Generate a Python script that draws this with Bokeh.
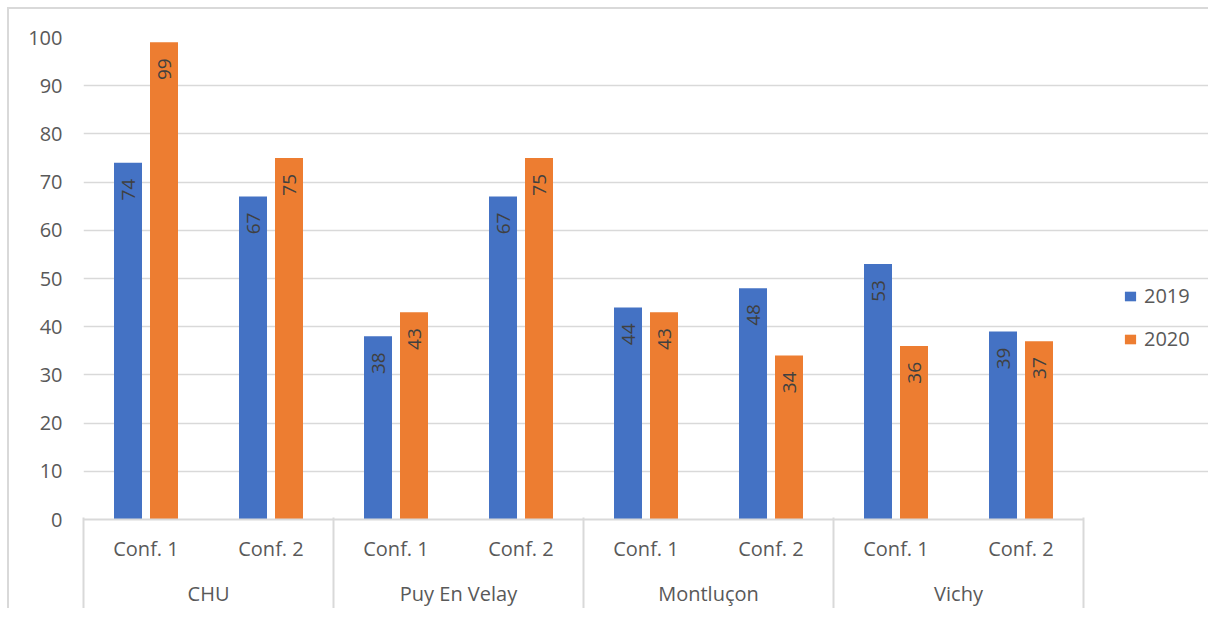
import math
from bokeh.plotting import figure
from bokeh.models import (ColumnDataSource, FactorRange, Range1d, FixedTicker, LinearAxis,
                          CategoricalAxis, Legend, LegendItem)
from bokeh.transform import dodge
from bokeh.core.properties import value
from bokeh.embed import file_html
from bokeh.resources import INLINE

# ---- data ----
sites = ["CHU", "Puy En Velay", "Montluçon", "Vichy"]
confs = ["Conf. 1", "Conf. 2"]
years = ["2019", "2020"]
values_2019 = [74, 67, 38, 67, 44, 48, 53, 39]
values_2020 = [99, 75, 43, 75, 43, 34, 36, 37]
y_ticks = [0, 10, 20, 30, 40, 50, 60, 70, 80, 90, 100]

FONT = "Open Sans"
BLUE = "#4472C4"
ORANGE = "#ED7D31"
GRID = "#d9d9d9"
TXT = "#595959"

factors = [(s, c) for s in sites for c in confs]
n_units = len(factors)
# one blank slot on the right leaves room for the legend inside the frame
all_factors = factors + [(" ", " ")]

src = ColumnDataSource(dict(
    x=factors,
    v19=values_2019,
    v20=values_2020,
    l19=[str(v) for v in values_2019],
    l20=[str(v) for v in values_2020],
))

p = figure(
    width=1201, height=601,
    x_range=FactorRange(*all_factors, factor_padding=0, group_padding=0,
                        subgroup_padding=0, range_padding=0),
    y_range=Range1d(0, 100),
    output_backend="svg", toolbar_location=None,
    min_border_left=74, min_border_top=28, min_border_right=2, min_border_bottom=90,
    x_axis_location=None,
)
p.outline_line_color = None
p.styles = {"border-top": "2px solid #d9d9d9", "border-left": "2px solid #d9d9d9",
            "margin-left": "7px", "margin-top": "7px"}

r19 = p.vbar(x=dodge("x", -0.144, range=p.x_range), top="v19", width=0.224, source=src,
             fill_color=BLUE, line_color=None)
r20 = p.vbar(x=dodge("x", 0.144, range=p.x_range), top="v20", width=0.224, source=src,
             fill_color=ORANGE, line_color=None)

for col, off in (("l19", -0.144), ("l20", 0.144)):
    yk = "v19" if col == "l19" else "v20"
    p.text(x=dodge("x", off, range=p.x_range), y=yk, text=col, source=src,
           angle=math.pi / 2, text_align="right", text_baseline="middle", y_offset=16,
           text_font=value(FONT), text_font_size="19px", text_color="#404040")

xa = CategoricalAxis(bounds=(0, n_units))
xa.axis_line_color = GRID
xa.axis_line_width = 2
xa.major_tick_line_color = None
xa.major_tick_in = 0
xa.major_tick_out = 0
xa.minor_tick_line_color = None
xa.separator_line_color = None
xa.major_label_standoff = 15
xa.major_label_text_font = FONT
xa.major_label_text_font_size = "20px"
xa.major_label_text_color = TXT
xa.group_text_font = FONT
xa.group_text_font_size = "20px"
xa.group_text_font_style = "normal"
xa.group_text_color = TXT
p.add_layout(xa, "below")

# separator axis (vertical group dividers), stacked below the category axis
sep_ticks = [i * len(confs) for i in range(len(sites) + 1)]
sep = LinearAxis(ticker=FixedTicker(ticks=sep_ticks, minor_ticks=[]))
sep.axis_line_color = None
sep.major_tick_in = 92
sep.major_tick_out = 1
sep.major_tick_line_color = GRID
sep.major_tick_line_width = 2
sep.minor_tick_line_color = None
sep.major_label_standoff = 0
sep.major_label_text_font_size = "0px"
sep.major_label_text_color = None
p.add_layout(sep, "below")

p.yaxis.ticker = FixedTicker(ticks=y_ticks)
p.yaxis.axis_line_color = None
p.yaxis.major_tick_line_color = None
p.yaxis.minor_tick_line_color = None
p.yaxis.major_tick_out = 0
p.yaxis.major_label_standoff = 21
p.yaxis.major_label_text_font = FONT
p.yaxis.major_label_text_font_size = "20px"
p.yaxis.major_label_text_color = TXT

p.xgrid.grid_line_color = None
p.ygrid.ticker = FixedTicker(ticks=y_ticks)
p.ygrid.bounds = (0, n_units)
p.ygrid.grid_line_color = GRID
p.ygrid.grid_line_width = 1.5

legend = Legend(items=[LegendItem(label=years[0], renderers=[r19]),
                       LegendItem(label=years[1], renderers=[r20])],
                location=(1040, 167), orientation="vertical")
legend.border_line_color = None
legend.background_fill_color = None
legend.padding = 0
legend.margin = 0
legend.glyph_width = 14
legend.glyph_height = 12
legend.label_standoff = 7
legend.spacing = 16
legend.label_text_font = FONT
legend.label_text_font_size = "20px"
legend.label_text_color = TXT
p.add_layout(legend, "center")

open("out.html", "w").write(file_html(p, INLINE))
